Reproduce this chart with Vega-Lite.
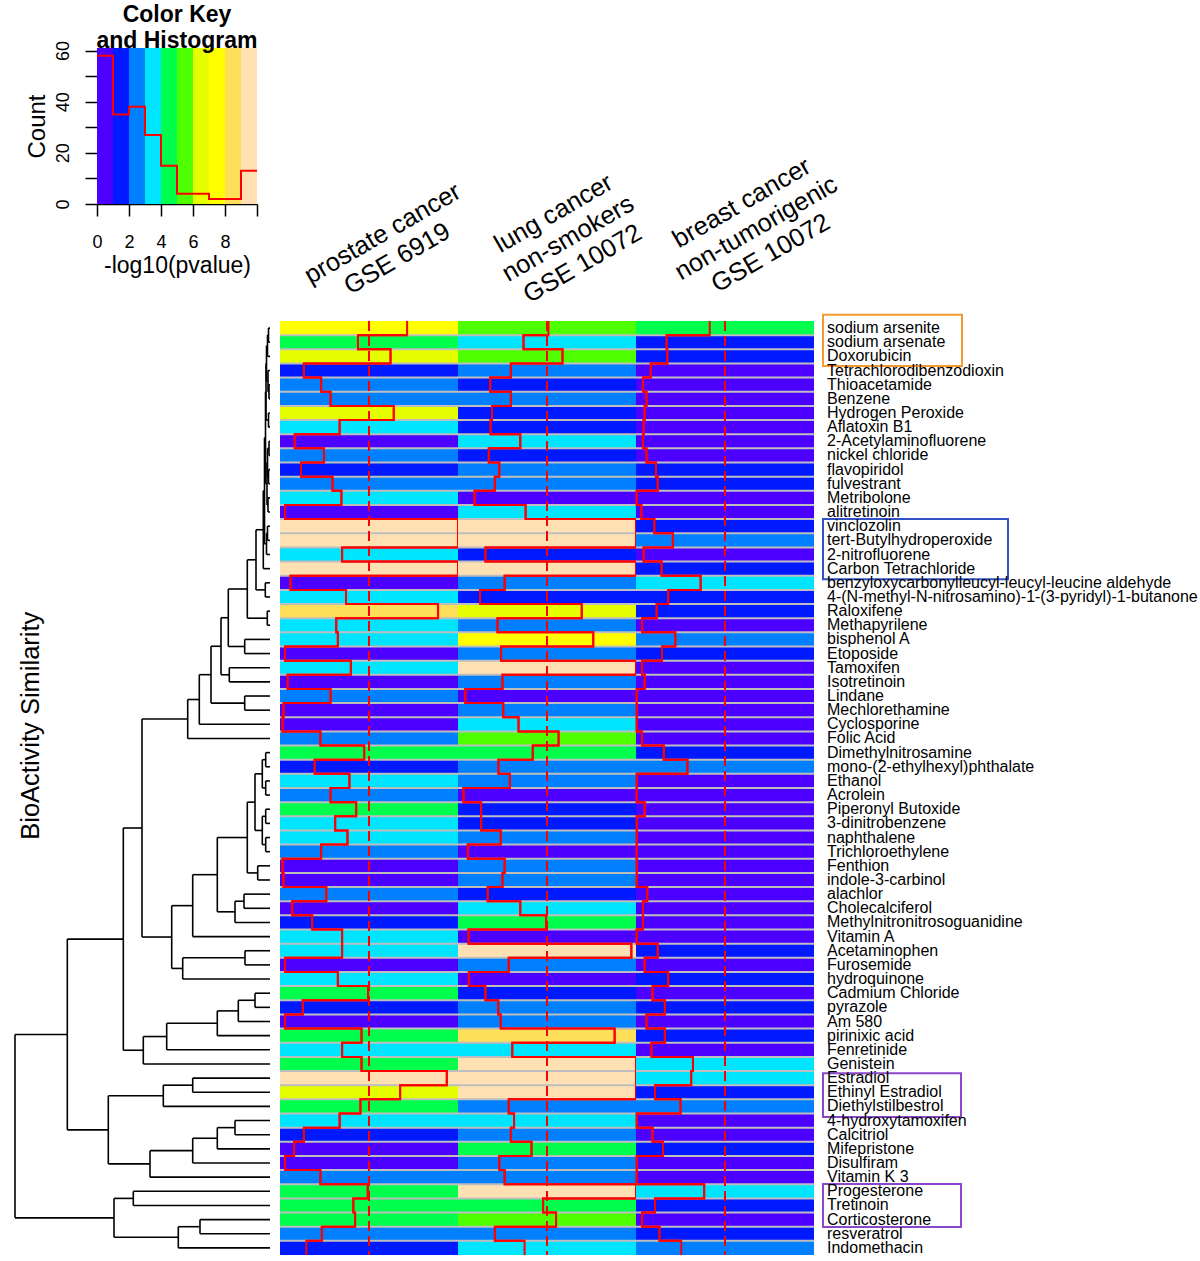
{
  "$schema": "https://vega.github.io/schema/vega-lite/v6.json",
  "background": "white",
  "padding": {"left": 14, "top": 3, "right": 0, "bottom": 0},
  "config": {"view": {"stroke": null}, "font": "Liberation Sans"},
  "bounds": "flush",
  "spacing": 273,
  "resolve": {"scale": {"color": "independent", "stroke": "independent"}},
  "datasets": {
    "cells": [
      {"r":1,"n":"sodium arsenite","p":7.14,"l":5.08,"b":4.14},
      {"r":2,"n":"sodium arsenate","p":4.38,"l":3.68,"b":1.72},
      {"r":3,"n":"Doxorubicin","p":6.21,"l":5.87,"b":1.76},
      {"r":4,"n":"Tetrachlorodibenzodioxin","p":1.34,"l":2.97,"b":0.83},
      {"r":5,"n":"Thioacetamide","p":2.31,"l":1.81,"b":0.39},
      {"r":6,"n":"Benzene","p":2.84,"l":2.97,"b":0.59},
      {"r":7,"n":"Hydrogen Peroxide","p":6.39,"l":1.91,"b":0.49},
      {"r":8,"n":"Aflatoxin B1","p":3.35,"l":1.83,"b":0.43},
      {"r":9,"n":"2-Acetylaminofluorene","p":0.83,"l":3.5,"b":0.39},
      {"r":10,"n":"nickel chloride","p":2.47,"l":1.73,"b":0.59},
      {"r":11,"n":"flavopiridol","p":1.18,"l":2.32,"b":1.12},
      {"r":12,"n":"fulvestrant","p":2.95,"l":2.07,"b":1.22},
      {"r":13,"n":"Metribolone","p":3.45,"l":0.93,"b":0.04},
      {"r":14,"n":"alitretinoin","p":0.28,"l":3.8,"b":0.3},
      {"r":15,"n":"vinclozolin","p":10,"l":10,"b":1.03},
      {"r":16,"n":"tert-Butylhydroperoxide","p":10,"l":10,"b":2.07},
      {"r":17,"n":"2-nitrofluorene","p":3.49,"l":1.54,"b":0.43},
      {"r":18,"n":"Carbon Tetrachloride","p":10,"l":10,"b":1.44},
      {"r":19,"n":"benzyloxycarbonylleucyl-leucyl-leucine aldehyde","p":0.59,"l":2.62,"b":3.63},
      {"r":20,"n":"4-(N-methyl-N-nitrosamino)-1-(3-pyridyl)-1-butanone","p":3.71,"l":1.24,"b":1.81},
      {"r":21,"n":"Raloxifene","p":8.88,"l":6.95,"b":1.16},
      {"r":22,"n":"Methapyrilene","p":3.16,"l":2.22,"b":0.34},
      {"r":23,"n":"bisphenol A","p":3.25,"l":7.6,"b":2.21},
      {"r":24,"n":"Etoposide","p":0.28,"l":2.42,"b":1.46},
      {"r":25,"n":"Tamoxifen","p":3.98,"l":10,"b":0.34},
      {"r":26,"n":"Isotretinoin","p":0.43,"l":2.5,"b":0.49},
      {"r":27,"n":"Lindane","p":2.84,"l":0.41,"b":0.04},
      {"r":28,"n":"Mechlorethamine","p":0.2,"l":2.54,"b":0.04},
      {"r":29,"n":"Cyclosporine","p":0.14,"l":3.4,"b":0.04},
      {"r":30,"n":"Folic Acid","p":2.27,"l":5.65,"b":0.34},
      {"r":31,"n":"Dimethylnitrosamine","p":4.73,"l":4.2,"b":1.56},
      {"r":32,"n":"mono-(2-ethylhexyl)phthalate","p":1.95,"l":2.27,"b":2.89},
      {"r":33,"n":"Ethanol","p":3.9,"l":2.91,"b":0.04},
      {"r":34,"n":"Acrolein","p":2.84,"l":0.31,"b":0.04},
      {"r":35,"n":"Piperonyl Butoxide","p":4.28,"l":1.3,"b":0.49},
      {"r":36,"n":"3-dinitrobenzene","p":3.1,"l":1.3,"b":0.04},
      {"r":37,"n":"naphthalene","p":3.79,"l":2.4,"b":0.04},
      {"r":38,"n":"Trichloroethylene","p":2.31,"l":0.55,"b":0.04},
      {"r":39,"n":"Fenthion","p":0.14,"l":2.62,"b":0.04},
      {"r":40,"n":"indole-3-carbinol","p":0.2,"l":2.5,"b":0.04},
      {"r":41,"n":"alachlor","p":2.6,"l":1.67,"b":0.63},
      {"r":42,"n":"Cholecalciferol","p":0.69,"l":3.5,"b":0.39},
      {"r":43,"n":"Methylnitronitrosoguanidine","p":1.81,"l":4.95,"b":0.39},
      {"r":44,"n":"Vitamin A","p":3.49,"l":0.59,"b":0.04},
      {"r":45,"n":"Acetaminophen","p":3.49,"l":9.74,"b":1.22},
      {"r":46,"n":"Furosemide","p":0.28,"l":2.85,"b":0.49},
      {"r":47,"n":"hydroquinone","p":3.25,"l":0.61,"b":1.81},
      {"r":48,"n":"Cadmium Chloride","p":4.95,"l":1.54,"b":0.93},
      {"r":49,"n":"pyrazole","p":1.28,"l":2.26,"b":1.62},
      {"r":50,"n":"Am 580","p":0.28,"l":2.4,"b":0.59},
      {"r":51,"n":"pirinixic acid","p":4.58,"l":8.8,"b":1.62},
      {"r":52,"n":"Fenretinide","p":3.49,"l":3.05,"b":0.87},
      {"r":53,"n":"Genistein","p":4.58,"l":10,"b":3.2},
      {"r":54,"n":"Estradiol","p":9.37,"l":10,"b":3.1},
      {"r":55,"n":"Ethinyl Estradiol","p":6.75,"l":10,"b":1.07},
      {"r":56,"n":"Diethylstilbestrol","p":4.52,"l":2.85,"b":2.5},
      {"r":57,"n":"4-hydroxytamoxifen","p":3.35,"l":3.15,"b":0.04},
      {"r":58,"n":"Calcitriol","p":1.34,"l":2.97,"b":0.93},
      {"r":59,"n":"Mifepristone","p":0.79,"l":4.13,"b":1.52},
      {"r":60,"n":"Disulfiram","p":0.28,"l":2.32,"b":0.04},
      {"r":61,"n":"Vitamin K 3","p":2.27,"l":2.62,"b":0.04},
      {"r":62,"n":"Progesterone","p":4.93,"l":10,"b":3.83},
      {"r":63,"n":"Tretinoin","p":4.12,"l":4.78,"b":1.07},
      {"r":64,"n":"Corticosterone","p":4.22,"l":5.51,"b":0.34},
      {"r":65,"n":"resveratrol","p":2.35,"l":2.07,"b":1.32},
      {"r":66,"n":"Indomethacin","p":1.48,"l":3.74,"b":2.54}
    ],
    "dend": [
      {"h":1.5,"ya":1,"ha":0,"yb":2,"hb":0},
      {"h":2.5,"ya":1.5,"ha":1.5,"yb":3,"hb":0},
      {"h":1,"ya":5,"ha":0,"yb":6,"hb":0},
      {"h":2,"ya":4,"ha":0,"yb":5.5,"hb":1},
      {"h":3.5,"ya":2.25,"ha":2.5,"yb":4.75,"hb":2},
      {"h":1.5,"ya":7,"ha":0,"yb":8,"hb":0},
      {"h":4,"ya":3.5,"ha":3.5,"yb":7.5,"hb":1.5},
      {"h":1,"ya":9,"ha":0,"yb":10,"hb":0},
      {"h":1.5,"ya":11,"ha":0,"yb":12,"hb":0},
      {"h":2.5,"ya":9.5,"ha":1,"yb":11.5,"hb":1.5},
      {"h":2,"ya":13,"ha":0,"yb":14,"hb":0},
      {"h":3,"ya":10.5,"ha":2.5,"yb":13.5,"hb":2},
      {"h":2.5,"ya":15,"ha":0,"yb":16,"hb":0},
      {"h":3.5,"ya":15.5,"ha":2.5,"yb":17,"hb":0},
      {"h":4.5,"ya":5.5,"ha":4,"yb":12,"hb":3},
      {"h":5.5,"ya":8.75,"ha":4.5,"yb":16.25,"hb":3.5},
      {"h":6.7,"ya":12.5,"ha":5.5,"yb":18,"hb":0},
      {"h":4.7,"ya":19,"ha":0,"yb":20,"hb":0},
      {"h":14,"ya":15.25,"ha":6.7,"yb":19.5,"hb":4.7},
      {"h":2.7,"ya":21,"ha":0,"yb":22,"hb":0},
      {"h":22.7,"ya":17.375,"ha":14,"yb":21.5,"hb":2.7},
      {"h":25.3,"ya":23,"ha":0,"yb":24,"hb":0},
      {"h":41.7,"ya":19.4375,"ha":22.7,"yb":23.5,"hb":25.3},
      {"h":40.7,"ya":25,"ha":0,"yb":26,"hb":0},
      {"h":49,"ya":21.469,"ha":41.7,"yb":25.5,"hb":40.7},
      {"h":25.3,"ya":27,"ha":0,"yb":28,"hb":0},
      {"h":59,"ya":23.484,"ha":49,"yb":27.5,"hb":25.3},
      {"h":70.7,"ya":25.492,"ha":59,"yb":29,"hb":0},
      {"h":82.3,"ya":27.246,"ha":70.7,"yb":30,"hb":0},
      {"h":4.3,"ya":31,"ha":0,"yb":32,"hb":0},
      {"h":4.3,"ya":33,"ha":0,"yb":34,"hb":0},
      {"h":7.7,"ya":31.5,"ha":4.3,"yb":33.5,"hb":4.3},
      {"h":4.3,"ya":35,"ha":0,"yb":36,"hb":0},
      {"h":4.3,"ya":37,"ha":0,"yb":38,"hb":0},
      {"h":7.7,"ya":35.5,"ha":4.3,"yb":37.5,"hb":4.3},
      {"h":15,"ya":32.5,"ha":7.7,"yb":36.5,"hb":7.7},
      {"h":12.3,"ya":39,"ha":0,"yb":40,"hb":0},
      {"h":22.7,"ya":34.5,"ha":15,"yb":39.5,"hb":12.3},
      {"h":26,"ya":41,"ha":0,"yb":42,"hb":0},
      {"h":35,"ya":41.5,"ha":26,"yb":43,"hb":0},
      {"h":52.7,"ya":37,"ha":22.7,"yb":42.25,"hb":35},
      {"h":77.3,"ya":39.625,"ha":52.7,"yb":44,"hb":0},
      {"h":25,"ya":45,"ha":0,"yb":46,"hb":0},
      {"h":87.3,"ya":45.5,"ha":25,"yb":47,"hb":0},
      {"h":98.3,"ya":41.813,"ha":77.3,"yb":46.25,"hb":87.3},
      {"h":128,"ya":28.623,"ha":82.3,"yb":44.031,"hb":98.3},
      {"h":15,"ya":48,"ha":0,"yb":49,"hb":0},
      {"h":31.7,"ya":48.5,"ha":15,"yb":50,"hb":0},
      {"h":52.7,"ya":49.25,"ha":31.7,"yb":51,"hb":0},
      {"h":103.3,"ya":50.125,"ha":52.7,"yb":52,"hb":0},
      {"h":126.7,"ya":51.063,"ha":103.3,"yb":53,"hb":0},
      {"h":146.7,"ya":36.327,"ha":128,"yb":52.031,"hb":126.7},
      {"h":77.3,"ya":54,"ha":0,"yb":55,"hb":0},
      {"h":106.7,"ya":54.5,"ha":77.3,"yb":56,"hb":0},
      {"h":35,"ya":57,"ha":0,"yb":58,"hb":0},
      {"h":52.7,"ya":57.5,"ha":35,"yb":59,"hb":0},
      {"h":77.3,"ya":58.25,"ha":52.7,"yb":60,"hb":0},
      {"h":120,"ya":59.125,"ha":77.3,"yb":61,"hb":0},
      {"h":161.7,"ya":55.25,"ha":106.7,"yb":60.063,"hb":120},
      {"h":202.7,"ya":44.179,"ha":146.7,"yb":57.656,"hb":161.7},
      {"h":136.7,"ya":62,"ha":0,"yb":63,"hb":0},
      {"h":70,"ya":64,"ha":0,"yb":65,"hb":0},
      {"h":91.7,"ya":64.5,"ha":70,"yb":66,"hb":0},
      {"h":156,"ya":62.5,"ha":136.7,"yb":65.25,"hb":91.7},
      {"h":255,"ya":50.918,"ha":202.7,"yb":63.875,"hb":156}
    ],
    "key": [
      {"lo":0,"hi":1},{"lo":1,"hi":2},{"lo":2,"hi":3},{"lo":3,"hi":4},{"lo":4,"hi":5},
      {"lo":5,"hi":6},{"lo":6,"hi":7},{"lo":7,"hi":8},{"lo":8,"hi":9},{"lo":9,"hi":10}
    ],
    "hist": [
      {"x":0,"n":58},{"x":1,"n":35},{"x":2,"n":38},{"x":3,"n":27},{"x":4,"n":15},{"x":5,"n":4},
      {"x":6,"n":4},{"x":7,"n":2},{"x":8,"n":2},{"x":9,"n":13},{"x":10,"n":13}
    ],
    "boxes": [
      {"g":"orange","x1":9,"top":0.06,"bot":3.68,"x2":148},
      {"g":"blue","x1":9,"top":14.49,"bot":18.75,"x2":194},
      {"g":"purple","x1":9,"top":53.65,"bot":56.75,"x2":147},
      {"g":"purple","x1":9,"top":61.49,"bot":64.53,"x2":147}
    ]
  },
  "vconcat": [
    {
      "bounds": "flush",
      "spacing": 0,
      "resolve": {"scale": {"color": "independent"}},
      "hconcat": [
        {"width": 82, "height": 156, "data": {"values": [{"a": 0}]}, "mark": {"type": "point", "opacity": 0}, "encoding": {}},
        {
          "width": 160,
          "height": 156,
          "title": {"text": ["Color Key", "and Histogram"], "fontSize": 23, "fontWeight": "bold", "lineHeight": 26, "offset": -30, "baseline": "alphabetic", "anchor": "middle", "frame": "group", "color": "black"},
          "layer": [
            {
              "data": {"name": "key"},
              "mark": {"type": "rect"},
              "encoding": {
                "x": {"field": "lo", "type": "quantitative", "scale": {"domain": [0, 10], "nice": false, "zero": false},
                  "axis": {"title": "-log10(pvalue)", "values": [0, 2, 4, 6, 8, 10], "labelExpr": "datum.value == 10 ? '' : datum.label", "grid": false, "labelOverlap": false,
                    "tickSize": 12, "tickWidth": 1.5, "tickColor": "black", "domainColor": "black", "domainWidth": 1.5, "labelFlush": false,
                    "labelFontSize": 18, "labelColor": "black", "labelPadding": 17, "titleFontSize": 23, "titleFontWeight": "normal", "titleColor": "black", "titlePadding": 3}},
                "x2": {"field": "hi"},
                "color": {"field": "lo", "type": "quantitative", "legend": null,
                  "scale": {"type": "threshold", "domain": [1, 2, 3, 4, 5, 6, 7, 8, 9], "range": ["#4C00FF", "#0019FF", "#0080FF", "#00E5FF", "#00FF4D", "#4DFF00", "#E6FF00", "#FFFF00", "#FFDE59", "#FFE0B3"]}}
              }
            },
            {
              "data": {"name": "hist"},
              "mark": {"type": "line", "interpolate": "step-after", "color": "#FF0000", "strokeWidth": 2},
              "encoding": {
                "x": {"field": "x", "type": "quantitative",
                  "axis": {"title": "-log10(pvalue)", "values": [0, 2, 4, 6, 8, 10], "labelExpr": "datum.value == 10 ? '' : datum.label", "grid": false, "labelOverlap": false,
                    "tickSize": 12, "tickWidth": 1.5, "tickColor": "black", "domainColor": "black", "domainWidth": 1.5, "labelFlush": false,
                    "labelFontSize": 18, "labelColor": "black", "labelPadding": 17, "titleFontSize": 23, "titleFontWeight": "normal", "titleColor": "black", "titlePadding": 3}},
                "y": {"field": "n", "type": "quantitative", "scale": {"domain": [0, 61], "nice": false, "zero": false},
                  "axis": {"title": "Count", "values": [0, 10, 20, 30, 40, 50, 60], "labelExpr": "datum.value % 20 == 0 ? datum.label : ''", "grid": false, "domain": false, "labelOverlap": false,
                    "tickSize": 12, "tickWidth": 1.5, "tickColor": "black", "labelAngle": 270, "labelAlign": "center", "labelBaseline": "bottom",
                    "labelFontSize": 18, "labelColor": "black", "labelPadding": 13, "titleFontSize": 24, "titleFontWeight": "normal", "titleColor": "black", "titlePadding": 5}}
              }
            }
          ]
        }
      ]
    },
    {
      "bounds": "flush",
      "spacing": 0,
      "resolve": {"scale": {"color": "independent", "stroke": "independent"}},
      "hconcat": [
        {
          "width": 265,
          "height": 934,
          "layer": [
            {
              "data": {"name": "dend"},
              "mark": {"type": "rule", "color": "black", "strokeWidth": 1.6},
              "encoding": {
                "x": {"field": "h", "type": "quantitative", "scale": {"domain": [-10, 255], "reverse": true, "nice": false, "zero": false}, "axis": null},
                "y": {"field": "ya", "type": "quantitative", "scale": {"domain": [0.5, 66.5], "reverse": true, "nice": false, "zero": false}, "axis": null},
                "y2": {"field": "yb"}
              }
            },
            {
              "data": {"name": "dend"},
              "mark": {"type": "rule", "color": "black", "strokeWidth": 1.6},
              "encoding": {
                "x": {"field": "ha", "type": "quantitative"},
                "x2": {"field": "h"},
                "y": {"field": "ya", "type": "quantitative"}
              }
            },
            {
              "data": {"name": "dend"},
              "mark": {"type": "rule", "color": "black", "strokeWidth": 1.6},
              "encoding": {
                "x": {"field": "hb", "type": "quantitative"},
                "x2": {"field": "h"},
                "y": {"field": "yb", "type": "quantitative"}
              }
            },
            {
              "data": {"values": [{"t": "BioActivity Similarity"}]},
              "mark": {"type": "text", "angle": 270, "fontSize": 25.5, "align": "center", "baseline": "middle", "color": "black"},
              "encoding": {
                "text": {"field": "t"},
                "x": {"datum": 239, "type": "quantitative"},
                "y": {"datum": 29.1, "type": "quantitative"}
              }
            }
          ]
        },
        {
          "width": 178,
          "height": 934,
          "layer": [
            {
              "data": {"name": "cells"},
              "mark": {"type": "rect"},
              "encoding": {
                "y": {"field": "n", "type": "nominal", "axis": null, "scale": {"paddingInner": 0, "paddingOuter": 0, "domain": ["sodium arsenite","sodium arsenate","Doxorubicin","Tetrachlorodibenzodioxin","Thioacetamide","Benzene","Hydrogen Peroxide","Aflatoxin B1","2-Acetylaminofluorene","nickel chloride","flavopiridol","fulvestrant","Metribolone","alitretinoin","vinclozolin","tert-Butylhydroperoxide","2-nitrofluorene","Carbon Tetrachloride","benzyloxycarbonylleucyl-leucyl-leucine aldehyde","4-(N-methyl-N-nitrosamino)-1-(3-pyridyl)-1-butanone","Raloxifene","Methapyrilene","bisphenol A","Etoposide","Tamoxifen","Isotretinoin","Lindane","Mechlorethamine","Cyclosporine","Folic Acid","Dimethylnitrosamine","mono-(2-ethylhexyl)phthalate","Ethanol","Acrolein","Piperonyl Butoxide","3-dinitrobenzene","naphthalene","Trichloroethylene","Fenthion","indole-3-carbinol","alachlor","Cholecalciferol","Methylnitronitrosoguanidine","Vitamin A","Acetaminophen","Furosemide","hydroquinone","Cadmium Chloride","pyrazole","Am 580","pirinixic acid","Fenretinide","Genistein","Estradiol","Ethinyl Estradiol","Diethylstilbestrol","4-hydroxytamoxifen","Calcitriol","Mifepristone","Disulfiram","Vitamin K 3","Progesterone","Tretinoin","Corticosterone","resveratrol","Indomethacin"]}},
                "color": {"field": "p", "type": "quantitative", "legend": null,
                  "scale": {"type": "threshold", "domain": [1, 2, 3, 4, 5, 6, 7, 8, 9], "range": ["#4C00FF", "#0019FF", "#0080FF", "#00E5FF", "#00FF4D", "#4DFF00", "#E6FF00", "#FFFF00", "#FFDE59", "#FFE0B3"]}}
              }
            },
            {
              "data": {"name": "cells"},
              "mark": {"type": "rule", "color": "#BEBEBE", "strokeWidth": 2},
              "encoding": {
                "y": {"field": "n", "type": "nominal", "bandPosition": 0},
                "strokeOpacity": {"condition": {"test": "datum.r === 1", "value": 0}, "value": 1}
              }
            },
            {
              "data": {"name": "cells"},
              "mark": {"type": "line", "interpolate": "step-before", "color": "#FF0000", "strokeWidth": 2},
              "encoding": {
                "x": {"field": "p", "type": "quantitative", "scale": {"domain": [0, 10], "nice": false, "zero": false}, "axis": null},
                "y": {"field": "n", "type": "nominal", "bandPosition": 0},
                "order": {"field": "r", "type": "quantitative"}
              }
            },
            {
              "data": {"name": "cells"},
              "mark": {"type": "line", "interpolate": "step-after", "color": "#FF0000", "strokeWidth": 2},
              "encoding": {
                "x": {"field": "p", "type": "quantitative"},
                "y": {"field": "n", "type": "nominal", "bandPosition": 1},
                "order": {"field": "r", "type": "quantitative"}
              }
            },
            {
              "data": {"values": [{"a": 0}]},
              "mark": {"type": "rule", "color": "#FF0000", "strokeWidth": 2, "strokeDash": [10, 5]},
              "encoding": {"x": {"datum": 5, "type": "quantitative"}}
            },
            {
              "data": {"values": [{"n": "sodium arsenite", "t": "prostate cancer\nGSE 6919"}]},
              "mark": {"type": "text", "angle": 330, "fontSize": 25.5, "lineBreak": "\n", "lineHeight": 29, "align": "center", "baseline": "middle", "dx": 59, "dy": -75, "color": "black"},
              "encoding": {
                "text": {"field": "t"},
                "x": {"datum": 5, "type": "quantitative"},
                "y": {"field": "n", "type": "nominal"}
              }
            }
          ]
        },
        {
          "width": 178,
          "height": 934,
          "layer": [
            {
              "data": {"name": "cells"},
              "mark": {"type": "rect"},
              "encoding": {
                "y": {"field": "n", "type": "nominal", "axis": null, "scale": {"paddingInner": 0, "paddingOuter": 0, "domain": ["sodium arsenite","sodium arsenate","Doxorubicin","Tetrachlorodibenzodioxin","Thioacetamide","Benzene","Hydrogen Peroxide","Aflatoxin B1","2-Acetylaminofluorene","nickel chloride","flavopiridol","fulvestrant","Metribolone","alitretinoin","vinclozolin","tert-Butylhydroperoxide","2-nitrofluorene","Carbon Tetrachloride","benzyloxycarbonylleucyl-leucyl-leucine aldehyde","4-(N-methyl-N-nitrosamino)-1-(3-pyridyl)-1-butanone","Raloxifene","Methapyrilene","bisphenol A","Etoposide","Tamoxifen","Isotretinoin","Lindane","Mechlorethamine","Cyclosporine","Folic Acid","Dimethylnitrosamine","mono-(2-ethylhexyl)phthalate","Ethanol","Acrolein","Piperonyl Butoxide","3-dinitrobenzene","naphthalene","Trichloroethylene","Fenthion","indole-3-carbinol","alachlor","Cholecalciferol","Methylnitronitrosoguanidine","Vitamin A","Acetaminophen","Furosemide","hydroquinone","Cadmium Chloride","pyrazole","Am 580","pirinixic acid","Fenretinide","Genistein","Estradiol","Ethinyl Estradiol","Diethylstilbestrol","4-hydroxytamoxifen","Calcitriol","Mifepristone","Disulfiram","Vitamin K 3","Progesterone","Tretinoin","Corticosterone","resveratrol","Indomethacin"]}},
                "color": {"field": "l", "type": "quantitative", "legend": null,
                  "scale": {"type": "threshold", "domain": [1, 2, 3, 4, 5, 6, 7, 8, 9], "range": ["#4C00FF", "#0019FF", "#0080FF", "#00E5FF", "#00FF4D", "#4DFF00", "#E6FF00", "#FFFF00", "#FFDE59", "#FFE0B3"]}}
              }
            },
            {
              "data": {"name": "cells"},
              "mark": {"type": "rule", "color": "#BEBEBE", "strokeWidth": 2},
              "encoding": {
                "y": {"field": "n", "type": "nominal", "bandPosition": 0},
                "strokeOpacity": {"condition": {"test": "datum.r === 1", "value": 0}, "value": 1}
              }
            },
            {
              "data": {"name": "cells"},
              "mark": {"type": "line", "interpolate": "step-before", "color": "#FF0000", "strokeWidth": 2},
              "encoding": {
                "x": {"field": "l", "type": "quantitative", "scale": {"domain": [0, 10], "nice": false, "zero": false}, "axis": null},
                "y": {"field": "n", "type": "nominal", "bandPosition": 0},
                "order": {"field": "r", "type": "quantitative"}
              }
            },
            {
              "data": {"name": "cells"},
              "mark": {"type": "line", "interpolate": "step-after", "color": "#FF0000", "strokeWidth": 2},
              "encoding": {
                "x": {"field": "l", "type": "quantitative"},
                "y": {"field": "n", "type": "nominal", "bandPosition": 1},
                "order": {"field": "r", "type": "quantitative"}
              }
            },
            {
              "data": {"values": [{"a": 0}]},
              "mark": {"type": "rule", "color": "#FF0000", "strokeWidth": 2, "strokeDash": [10, 5]},
              "encoding": {"x": {"datum": 5, "type": "quantitative"}}
            },
            {
              "data": {"values": [{"n": "sodium arsenite", "t": "lung cancer\nnon-smokers\nGSE 10072"}]},
              "mark": {"type": "text", "angle": 330, "fontSize": 25.5, "lineBreak": "\n", "lineHeight": 29, "align": "center", "baseline": "middle", "dx": 63, "dy": -96, "color": "black"},
              "encoding": {
                "text": {"field": "t"},
                "x": {"datum": 5, "type": "quantitative"},
                "y": {"field": "n", "type": "nominal"}
              }
            }
          ]
        },
        {
          "width": 178,
          "height": 934,
          "layer": [
            {
              "data": {"name": "cells"},
              "mark": {"type": "rect"},
              "encoding": {
                "y": {"field": "n", "type": "nominal", "axis": null, "scale": {"paddingInner": 0, "paddingOuter": 0, "domain": ["sodium arsenite","sodium arsenate","Doxorubicin","Tetrachlorodibenzodioxin","Thioacetamide","Benzene","Hydrogen Peroxide","Aflatoxin B1","2-Acetylaminofluorene","nickel chloride","flavopiridol","fulvestrant","Metribolone","alitretinoin","vinclozolin","tert-Butylhydroperoxide","2-nitrofluorene","Carbon Tetrachloride","benzyloxycarbonylleucyl-leucyl-leucine aldehyde","4-(N-methyl-N-nitrosamino)-1-(3-pyridyl)-1-butanone","Raloxifene","Methapyrilene","bisphenol A","Etoposide","Tamoxifen","Isotretinoin","Lindane","Mechlorethamine","Cyclosporine","Folic Acid","Dimethylnitrosamine","mono-(2-ethylhexyl)phthalate","Ethanol","Acrolein","Piperonyl Butoxide","3-dinitrobenzene","naphthalene","Trichloroethylene","Fenthion","indole-3-carbinol","alachlor","Cholecalciferol","Methylnitronitrosoguanidine","Vitamin A","Acetaminophen","Furosemide","hydroquinone","Cadmium Chloride","pyrazole","Am 580","pirinixic acid","Fenretinide","Genistein","Estradiol","Ethinyl Estradiol","Diethylstilbestrol","4-hydroxytamoxifen","Calcitriol","Mifepristone","Disulfiram","Vitamin K 3","Progesterone","Tretinoin","Corticosterone","resveratrol","Indomethacin"]}},
                "color": {"field": "b", "type": "quantitative", "legend": null,
                  "scale": {"type": "threshold", "domain": [1, 2, 3, 4, 5, 6, 7, 8, 9], "range": ["#4C00FF", "#0019FF", "#0080FF", "#00E5FF", "#00FF4D", "#4DFF00", "#E6FF00", "#FFFF00", "#FFDE59", "#FFE0B3"]}}
              }
            },
            {
              "data": {"name": "cells"},
              "mark": {"type": "rule", "color": "#BEBEBE", "strokeWidth": 2},
              "encoding": {
                "y": {"field": "n", "type": "nominal", "bandPosition": 0},
                "strokeOpacity": {"condition": {"test": "datum.r === 1", "value": 0}, "value": 1}
              }
            },
            {
              "data": {"name": "cells"},
              "mark": {"type": "line", "interpolate": "step-before", "color": "#FF0000", "strokeWidth": 2},
              "encoding": {
                "x": {"field": "b", "type": "quantitative", "scale": {"domain": [0, 10], "nice": false, "zero": false}, "axis": null},
                "y": {"field": "n", "type": "nominal", "bandPosition": 0},
                "order": {"field": "r", "type": "quantitative"}
              }
            },
            {
              "data": {"name": "cells"},
              "mark": {"type": "line", "interpolate": "step-after", "color": "#FF0000", "strokeWidth": 2},
              "encoding": {
                "x": {"field": "b", "type": "quantitative"},
                "y": {"field": "n", "type": "nominal", "bandPosition": 1},
                "order": {"field": "r", "type": "quantitative"}
              }
            },
            {
              "data": {"values": [{"a": 0}]},
              "mark": {"type": "rule", "color": "#FF0000", "strokeWidth": 2, "strokeDash": [10, 5]},
              "encoding": {"x": {"datum": 5, "type": "quantitative"}}
            },
            {
              "data": {"values": [{"n": "sodium arsenite", "t": "breast cancer\nnon-tumorigenic\nGSE 10072"}]},
              "mark": {"type": "text", "angle": 330, "fontSize": 25.5, "lineBreak": "\n", "lineHeight": 29, "align": "center", "baseline": "middle", "dx": 77, "dy": -100, "color": "black"},
              "encoding": {
                "text": {"field": "t"},
                "x": {"datum": 5, "type": "quantitative"},
                "y": {"field": "n", "type": "nominal"}
              }
            }
          ]
        },
        {
          "width": 386,
          "height": 934,
          "layer": [
            {
              "data": {"name": "boxes"},
              "mark": {"type": "rect", "fillOpacity": 0, "strokeWidth": 2},
              "encoding": {
                "x": {"field": "x1", "type": "quantitative", "scale": {"domain": [0, 386], "nice": false, "zero": false}, "axis": null},
                "x2": {"field": "x2"},
                "y": {"field": "top", "type": "quantitative", "scale": {"domain": [0.5, 66.5], "reverse": true, "nice": false, "zero": false}, "axis": null},
                "y2": {"field": "bot"},
                "stroke": {"field": "g", "type": "nominal", "legend": null, "scale": {"domain": ["orange", "blue", "purple"], "range": ["#F39A33", "#3352C7", "#8B47C9"]}}
              }
            },
            {
              "data": {"name": "cells"},
              "mark": {"type": "text", "align": "left", "baseline": "middle", "fontSize": 16, "color": "black"},
              "encoding": {
                "x": {"datum": 13, "type": "quantitative"},
                "y": {"field": "r", "type": "quantitative"},
                "text": {"field": "n"}
              }
            }
          ]
        }
      ]
    }
  ]
}
